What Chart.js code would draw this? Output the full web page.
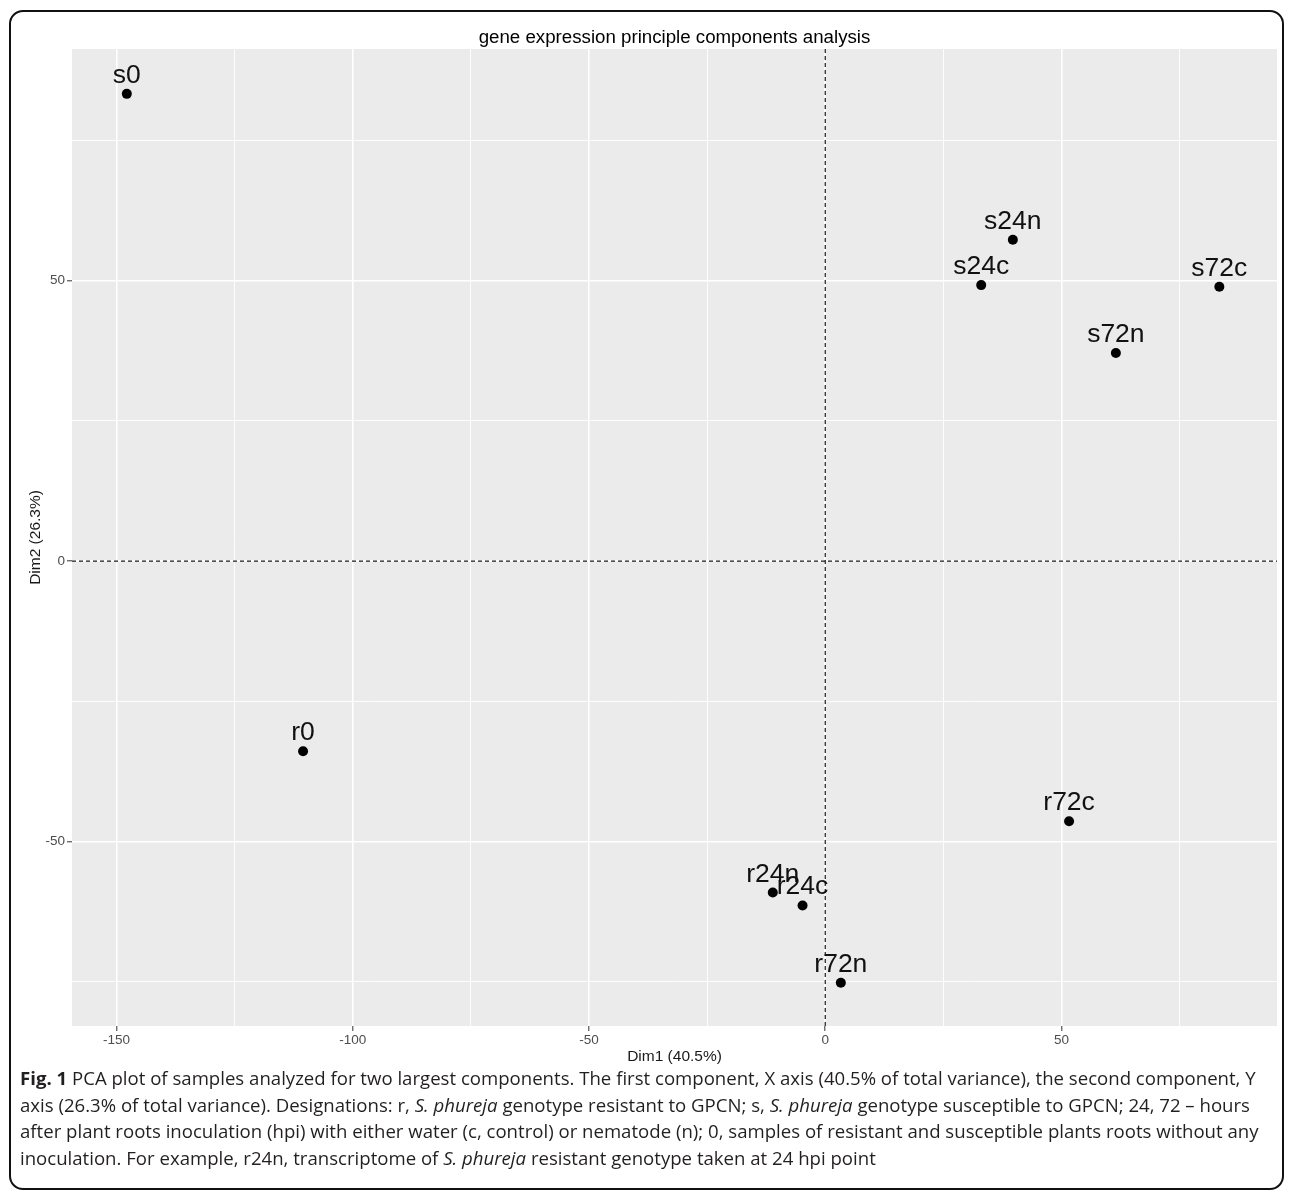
<!DOCTYPE html>
<html>
<head>
<meta charset="utf-8">
<script src="https://cdn.jsdelivr.net/npm/chart.js@4.4.1/dist/chart.umd.min.js"></script>
<style>
  html, body { margin: 0; padding: 0; background: #fff; }
  #page { position: relative; width: 1290px; height: 1190px; overflow: hidden; }
  #frame { position: absolute; left: 9px; top: 10px; width: 1275px; height: 1180px;
           border: 2px solid #111; border-radius: 14px; box-sizing: border-box; }
  #chartwrap { position: absolute; left: 0; top: 0; width: 1290px; height: 1075px; }
  #caption { position: absolute; left: 20px; top: 1065px; font-family: "Open Sans", "Noto Sans", sans-serif;
             font-size: 18.6px; line-height: 26.6px; color: #231f20; }
  #caption div { white-space: nowrap; }
</style>
</head>
<body>
<div id="page">
  <div id="frame"></div>
  <div id="chartwrap"><canvas id="c" width="1290" height="1075"></canvas></div>
  <div id="caption">
    <div><b>Fig. 1</b> PCA plot of samples analyzed for two largest components. The first component, X axis (40.5% of total variance), the second component, Y</div>
    <div>axis (26.3% of total variance). Designations: r, <i>S. phureja</i> genotype resistant to GPCN; s, <i>S. phureja</i> genotype susceptible to GPCN; 24, 72 – hours</div>
    <div>after plant roots inoculation (hpi) with either water (c, control) or nematode (n); 0, samples of resistant and susceptible plants roots without any</div>
    <div>inoculation. For example, r24n, transcriptome of <i>S. phureja</i> resistant genotype taken at 24 hpi point</div>
  </div>
</div>
<script>
// ---- data ----
const sampleNames = ['s0', 's24n', 's24c', 's72c', 's72n', 'r0', 'r72c', 'r24n', 'r24c', 'r72n'];
const dim1Values  = [-147.8, 39.7, 33.0, 83.4, 61.5, -110.5, 51.6, -11.1, -4.8, 3.3];
const dim2Values  = [83.3, 57.3, 49.2, 48.9, 37.1, -33.9, -46.4, -59.1, -61.4, -75.2];
const xMajorTicks = [-150, -100, -50, 0, 50];
const xMinorTicks = [-125, -75, -25, 25, 75];
const yMajorTicks = [-50, 0, 50];
const yMinorTicks = [-75, -25, 25, 75];
const xRange = [-159.4, 95.6];
const yRange = [-82.9, 91.3];
const chartTitle = 'gene expression principle components analysis';
const xTitle = 'Dim1 (40.5%)';
const yTitle = 'Dim2 (26.3%)';

const points = dim1Values.map((x, i) => ({ x: x, y: dim2Values[i] }));
const FONT = '"Liberation Sans", Arial, sans-serif';

const bgPlugin = {
  id: 'panelBg',
  beforeDraw(chart) {
    const { ctx, chartArea: a } = chart;
    ctx.save();
    ctx.fillStyle = '#EBEBEB';
    ctx.fillRect(a.left, a.top, a.right - a.left, a.bottom - a.top);
    ctx.restore();
  }
};

const refLines = {
  id: 'refLines',
  beforeDatasetsDraw(chart) {
    const { ctx, chartArea: a, scales } = chart;
    const x0 = scales.x.getPixelForValue(0);
    const y0 = scales.y.getPixelForValue(0);
    ctx.save();
    ctx.strokeStyle = '#1a1a1a';
    ctx.lineWidth = 1.2;
    ctx.setLineDash([4, 3]);
    ctx.beginPath();
    ctx.moveTo(x0, a.top); ctx.lineTo(x0, a.bottom);
    ctx.moveTo(a.left, y0); ctx.lineTo(a.right, y0);
    ctx.stroke();
    ctx.restore();
  }
};

const titlePlugin = {
  id: 'panelTitle',
  afterDraw(chart) {
    const { ctx, chartArea: a } = chart;
    ctx.save();
    ctx.font = '18.7px ' + FONT;
    ctx.fillStyle = '#000';
    ctx.textAlign = 'center';
    ctx.textBaseline = 'alphabetic';
    ctx.fillText(chartTitle, (a.left + a.right) / 2, 43);
    ctx.restore();
  }
};

const labelPlugin = {
  id: 'pointLabels',
  afterDatasetsDraw(chart) {
    const { ctx } = chart;
    const meta = chart.getDatasetMeta(0);
    ctx.save();
    ctx.font = '26.5px ' + FONT;
    ctx.fillStyle = '#111';
    ctx.textAlign = 'center';
    ctx.textBaseline = 'alphabetic';
    meta.data.forEach((el, i) => {
      ctx.fillText(sampleNames[i], el.x, el.y - 11);
    });
    ctx.restore();
  }
};

function buildTicks(major, minor) {
  return function (scale) {
    scale.ticks = major.concat(minor).sort((a, b) => a - b).map(v => ({ value: v }));
  };
}
const isMajor = (arr) => (ctx) => arr.includes(ctx.tick && ctx.tick.value);

new Chart(document.getElementById('c'), {
  type: 'scatter',
  data: {
    datasets: [{
      data: points,
      backgroundColor: '#000',
      borderColor: '#000',
      pointRadius: 5,
      pointHoverRadius: 5,
      borderWidth: 0
    }]
  },
  plugins: [bgPlugin, refLines, labelPlugin, titlePlugin],
  options: {
    responsive: false,
    devicePixelRatio: 1,
    animation: false,
    events: [],
    layout: { padding: { left: 20, right: 13, top: 49, bottom: 0 } },
    plugins: { legend: { display: false }, tooltip: { enabled: false }, title: { display: false } },
    scales: {
      x: {
        type: 'linear',
        position: 'bottom',
        min: xRange[0], max: xRange[1],
        afterBuildTicks: buildTicks(xMajorTicks, xMinorTicks),
        afterFit(scale) { scale.height = 49; },
        border: { display: false },
        grid: {
          color: '#FFFFFF',
          lineWidth: (c) => isMajor(xMajorTicks)(c) ? 1.6 : 0.9,
          drawTicks: true,
          tickLength: 5,
          tickWidth: 1,
          tickColor: (c) => isMajor(xMajorTicks)(c) ? '#333333' : 'rgba(0,0,0,0)'
        },
        ticks: {
          autoSkip: false,
          maxRotation: 0,
          padding: 1,
          color: '#4D4D4D',
          font: { family: FONT, size: 13.5 },
          callback: (v) => xMajorTicks.includes(v) ? String(v) : ''
        },
        title: { display: true, text: xTitle, color: '#1a1a1a', font: { family: FONT, size: 15.5 }, padding: { top: 0, bottom: 8.7 } }
      },
      y: {
        type: 'linear',
        position: 'left',
        min: yRange[0], max: yRange[1],
        afterBuildTicks: buildTicks(yMajorTicks, yMinorTicks),
        afterFit(scale) { scale.width = 52; },
        border: { display: false },
        grid: {
          color: '#FFFFFF',
          lineWidth: (c) => isMajor(yMajorTicks)(c) ? 1.6 : 0.9,
          drawTicks: true,
          tickLength: 5,
          tickWidth: 1,
          tickColor: (c) => isMajor(yMajorTicks)(c) ? '#333333' : 'rgba(0,0,0,0)'
        },
        ticks: {
          autoSkip: false,
          padding: 2,
          color: '#4D4D4D',
          font: { family: FONT, size: 13.5 },
          callback: (v) => yMajorTicks.includes(v) ? String(v) : ''
        },
        title: { display: true, text: yTitle, color: '#1a1a1a', font: { family: FONT, size: 15.5 }, padding: { top: 6.7, bottom: 0 } }
      }
    }
  }
});
</script>
</body>
</html>
